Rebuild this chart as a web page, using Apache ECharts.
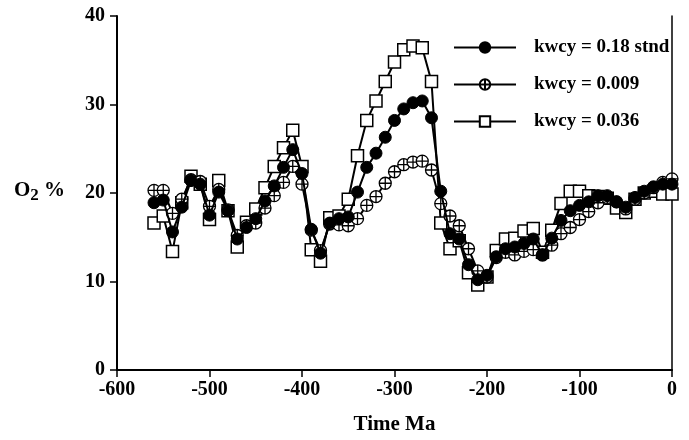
<!DOCTYPE html>
<html>
<head>
<meta charset="utf-8">
<script src="https://cdn.jsdelivr.net/npm/echarts@6/dist/echarts.min.js"></script>
<style>html,body{margin:0;padding:0;background:#fff;}#c{width:689px;height:440px;}</style>
</head>
<body>
<div id="c"></div>
<script>
var times = [-560,-550,-540,-530,-520,-510,-500,-490,-480,-470,-460,-450,-440,-430,-420,-410,-400,-390,-380,-370,-360,-350,-340,-330,-320,-310,-300,-290,-280,-270,-260,-250,-240,-230,-220,-210,-200,-190,-180,-170,-160,-150,-140,-130,-120,-110,-100,-90,-80,-70,-60,-50,-40,-30,-20,-10,0];
var stnd = [18.9,19.2,15.6,18.4,21.4,21.0,17.5,20.1,18.0,14.8,16.1,17.1,19.1,20.8,22.9,24.9,22.2,15.9,13.2,16.6,17.1,17.3,20.1,22.9,24.5,26.3,28.2,29.5,30.2,30.4,28.5,20.2,15.4,14.8,11.9,10.2,10.7,12.8,13.7,13.9,14.3,14.8,13.0,14.9,16.9,18.0,18.6,19.0,19.7,19.7,19.0,18.4,19.5,20.2,20.7,21.0,21.0];
var low = [20.3,20.3,17.7,19.3,21.5,21.3,18.5,20.4,18.1,15.2,16.3,16.6,18.3,19.7,21.2,23.0,21.0,15.8,13.5,16.5,16.4,16.3,17.1,18.6,19.6,21.1,22.4,23.2,23.5,23.6,22.6,18.8,17.4,16.3,13.7,11.2,10.5,12.7,13.3,13.0,13.4,13.6,13.0,14.1,15.4,16.1,17.0,17.9,18.9,19.5,19.0,18.2,19.3,20.0,20.6,21.2,21.6];
var high = [16.6,17.4,13.4,18.9,21.9,21.0,17.0,21.4,18.0,13.9,16.7,18.2,20.6,23.0,25.1,27.1,23.0,13.6,12.3,17.2,17.4,19.3,24.2,28.2,30.4,32.6,34.8,36.2,36.6,36.4,32.6,16.6,13.7,14.6,11.0,9.6,10.5,13.5,14.8,14.9,15.7,16.0,13.3,15.8,18.8,20.2,20.2,19.7,19.6,19.4,18.3,17.8,19.3,20.0,20.2,19.9,19.9];
var seriesNames = ['kwcy = 0.18 stnd','kwcy = 0.009','kwcy = 0.036'];
var xTicks = [-600,-500,-400,-300,-200,-100,0];
var yTicks = [0,10,20,30,40];

function pairs(vals){ return times.map(function(t,i){ return [t, vals[i]]; }); }

var FONT = '"Liberation Serif","Times New Roman",serif';
var crossCircle = 'path://M0,-10A10,10 0 1,1 0,10A10,10 0 1,1 0,-10ZM-10,0L10,0M0,-10L0,10';

var chart = echarts.init(document.getElementById('c'), null, {renderer:'canvas'});
chart.setOption({
  animation:false,
  backgroundColor:'#fff',
  grid:{left:117, right:17, top:16, bottom:67, containLabel:false},
  xAxis:{
    type:'value', min:xTicks[0], max:xTicks[xTicks.length-1], interval:100,
    name:'Time Ma', nameLocation:'middle', nameGap:44,
    nameTextStyle:{fontFamily:FONT, fontWeight:'bold', fontSize:21, color:'#000'},
    axisLine:{show:true, onZero:false, lineStyle:{color:'#000', width:2}},
    axisTick:{show:true, inside:false, length:7, lineStyle:{color:'#000', width:1.5}},
    axisLabel:{fontFamily:FONT, fontWeight:'bold', fontSize:20, color:'#000', margin:10},
    splitLine:{show:false}
  },
  yAxis:[{
    type:'value', min:yTicks[0], max:yTicks[yTicks.length-1], interval:10,
    axisLine:{show:true, onZero:false, lineStyle:{color:'#000', width:2}},
    axisTick:{show:true, inside:false, length:7, lineStyle:{color:'#000', width:1.5}},
    axisLabel:{fontFamily:FONT, fontWeight:'bold', fontSize:20, color:'#000', margin:12},
    splitLine:{show:false}
  },{
    type:'value', min:yTicks[0], max:yTicks[yTicks.length-1], interval:10, position:'right',
    axisLine:{show:true, onZero:false, lineStyle:{color:'#000', width:1.5}},
    axisTick:{show:false}, axisLabel:{show:false}, splitLine:{show:false}
  }],
  graphic:[{
    type:'text', left:14, top:180,
    style:{
      text:'{o|O}{s|2}{p| %}',
      rich:{
        o:{fontFamily:FONT, fontWeight:'bold', fontSize:21, fill:'#000'},
        s:{fontFamily:FONT, fontWeight:'bold', fontSize:17, fill:'#000', verticalAlign:'bottom', padding:[11,0,0,0]},
        p:{fontFamily:FONT, fontWeight:'bold', fontSize:21, fill:'#000'}
      }
    }
  }],
  legend:{
    orient:'vertical', left:453, top:38, padding:0, itemWidth:62, itemHeight:13, itemGap:18,
    textStyle:{fontFamily:FONT, fontWeight:'bold', fontSize:19, color:'#000', padding:[0,0,0,13]},
    data:seriesNames
  },
  series:[{
    name:seriesNames[0], type:'line', data:pairs(stnd),
    symbol:'circle', symbolSize:12,
    lineStyle:{color:'#000', width:2},
    itemStyle:{color:'#000', borderColor:'#000', borderWidth:1},
    z:4
  },{
    name:seriesNames[1], type:'line', data:pairs(low),
    symbol:crossCircle, symbolSize:12, symbolKeepAspect:true,
    lineStyle:{color:'#000', width:2},
    itemStyle:{color:'#fff', borderColor:'#000', borderWidth:1.3},
    z:3
  },{
    name:seriesNames[2], type:'line', data:pairs(high),
    symbol:'rect', symbolSize:12,
    lineStyle:{color:'#000', width:2},
    itemStyle:{color:'#fff', borderColor:'#000', borderWidth:1.5},
    z:2
  }]
});
</script>
</body>
</html>
